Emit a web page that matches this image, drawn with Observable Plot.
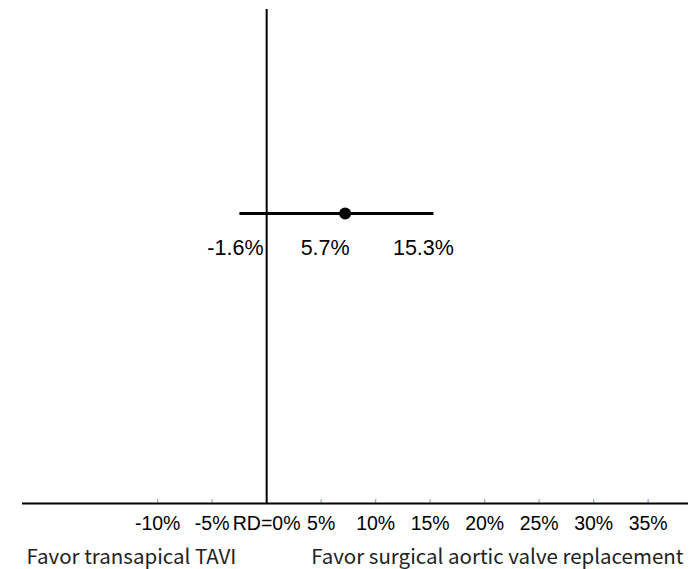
<!DOCTYPE html>
<html><head><meta charset="utf-8">
<script src="https://cdn.jsdelivr.net/npm/d3@7"></script>
<script src="https://cdn.jsdelivr.net/npm/@observablehq/plot@0.6"></script>
<style>html,body{margin:0;padding:0;background:#fff}</style>
</head><body><div id="chart"></div>
<script>
// Risk difference (RD) forest-style plot
const comparison = ["Transapical TAVI vs surgical aortic valve replacement"];
const estimate = [7.2];   // point as drawn
const lower = [-2.5];     // CI line start as drawn
const upper = [15.3];     // CI line end as drawn
const estimateLabel = ["5.7%"];
const lowerLabel = ["-1.6%"];
const upperLabel = ["15.3%"];
const tickValues = [-10, -5, 0, 5, 10, 15, 20, 25, 30, 35];
const tickLabels = ["-10%", "-5%", "RD=0%", "5%", "10%", "15%", "20%", "25%", "30%", "35%"];
const sideLabels = ["Favor transapical TAVI", "Favor surgical aortic valve replacement"];

const rows = comparison.map((c, i) => ({
  c, row: i + 1, est: estimate[i], lo: lower[i], hi: upper[i],
  estL: estimateLabel[i], loL: lowerLabel[i], hiL: upperLabel[i]
}));
const labelMap = new Map(tickValues.map((v, i) => [v, tickLabels[i]]));
const numFont = "'Liberation Sans', Arial, sans-serif";
const sideFont = "'Noto Sans CJK SC', 'Noto Sans', sans-serif";

const chart = Plot.plot({
  width: 696,
  height: 569,
  marginLeft: 22,
  marginRight: 8,
  marginTop: 9,
  marginBottom: 66,
  x: {domain: [-22.4, 38.7]},
  y: {domain: [0, 1.703], axis: null},
  style: {background: "#fff", color: "black"},
  marks: [
    Plot.axisX({ticks: tickValues.filter(d => d !== 0), anchor: "bottom", tickSize: -4, stroke: "#8eaadb", strokeWidth: 1.2,
      tickFormat: () => "", label: null}),
    Plot.axisX({ticks: tickValues, anchor: "bottom", tickSize: 0, tickPadding: 13, tickFormat: d => labelMap.get(d),
      fontSize: 19.5, fontFamily: numFont, fill: "black", label: null}),
    Plot.ruleY([0], {stroke: "black", strokeWidth: 2}),
    Plot.ruleX([0], {stroke: "black", strokeWidth: 2}),
    Plot.link(rows, {x1: "lo", x2: "hi", y1: "row", y2: "row", stroke: "black", strokeWidth: 3}),
    Plot.dot(rows, {x: "est", y: "row", r: 6, fill: "black", stroke: "none"}),
    Plot.text(rows, {x: "lo", y: "row", text: "loL", dx: -4, dy: 35, fontSize: 21.5, fontFamily: numFont, fill: "black"}),
    Plot.text(rows, {x: "est", y: "row", text: "estL", dx: -20, dy: 35, fontSize: 21.5, fontFamily: numFont, fill: "black"}),
    Plot.text(rows, {x: "hi", y: "row", text: "hiL", dx: -10, dy: 35, fontSize: 21.5, fontFamily: numFont, fill: "black"}),
    Plot.text([sideLabels[0]], {frameAnchor: "bottom-left", textAnchor: "start", dx: 4, dy: 60, fontSize: 20.5, fontFamily: sideFont, fill: "#222"}),
    Plot.text([sideLabels[1]], {frameAnchor: "bottom-right", textAnchor: "end", dx: -5, dy: 60, fontSize: 20.5, fontFamily: sideFont, fill: "#222"})
  ]
});
document.getElementById("chart").appendChild(chart);
</script>
</body></html>
